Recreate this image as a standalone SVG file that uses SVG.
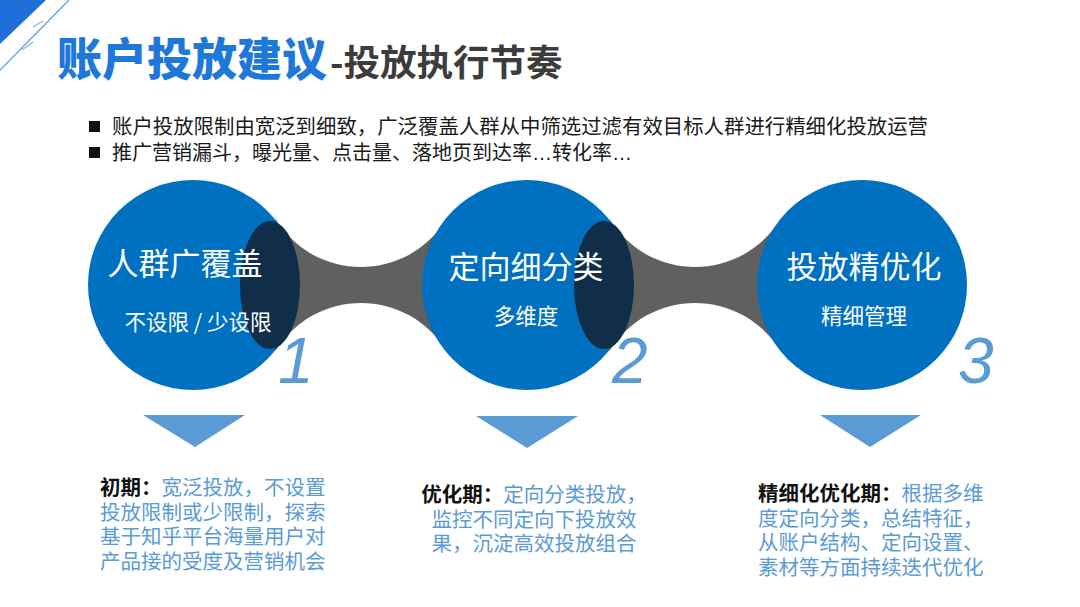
<svg xmlns="http://www.w3.org/2000/svg" width="1080" height="607" viewBox="0 0 1080 607">
<defs>
<style>
.cjk{font-family:"Noto Sans CJK SC","Noto Sans",sans-serif}
.t1{font-size:45px;font-weight:900;fill:#1E78DA}
.t2{font-size:36.5px;font-weight:700;fill:#3C3C3C}
.bul{font-size:20px;fill:#1A1A1A}
.dots{font-family:"Liberation Sans",Arial,sans-serif}
.ctitle{font-size:31px;fill:#FFFFFF;text-anchor:middle}
.csub{font-size:21.5px;fill:#FFFFFF;text-anchor:middle}
.num{font-family:"Liberation Sans",Arial,sans-serif;font-style:italic;font-size:64px;fill:#5B9BD5}
.desc{font-size:20.5px;fill:#5B9BD5}
.desc .b{font-weight:700;fill:#111111}
.circ{fill:#0070C0}
.dark{fill:#102E4A}
.tri{fill:#5B9BD5}
.conn{fill:#606060}
</style>
</defs>
<rect width="1080" height="607" fill="#FFFFFF"/>
<g id="corner">
<polygon points="0,0 46,0 0,44" fill="#1E6FD9"/>
<line x1="69" y1="0" x2="0" y2="70" stroke="#5B9BD5" stroke-width="1.2"/>
<line x1="33" y1="27" x2="43" y2="21" stroke="#8DB4E2" stroke-width="1.2"/>
<line x1="22" y1="50" x2="33" y2="42" stroke="#8DB4E2" stroke-width="1.2"/>
</g>
<g id="title" class="cjk">
<text x="57" y="76" class="t1">账户投放建议</text>
<text x="330" y="76" class="t2">-投放执行节奏</text>
</g>
<g id="bullets" class="cjk bul">
<rect x="89" y="121" width="11" height="11" fill="#111111"/>
<rect x="89" y="147" width="11" height="11" fill="#111111"/>
<text x="112" y="134" textLength="816" lengthAdjust="spacingAndGlyphs">账户投放限制由宽泛到细致，广泛覆盖人群从中筛选过滤有效目标人群进行精细化投放运营</text>
<text x="112" y="160">推广营销漏斗，曝光量、点击量、落地页到达率<tspan class="dots">…</tspan>转化率<tspan class="dots">…</tspan></text>
</g>
<g id="connectors">
<path class="conn" d="M 262 219.7 L 276 219.7 A 100 100 0 0 0 446 219.7 L 470 219.7 L 470 350.3 L 446 350.3 A 100 100 0 0 0 276 350.3 L 262 350.3 Z"/>
<path class="conn" transform="translate(334,0)" d="M 262 219.7 L 276 219.7 A 100 100 0 0 0 446 219.7 L 470 219.7 L 470 350.3 L 446 350.3 A 100 100 0 0 0 276 350.3 L 262 350.3 Z"/>
</g>
<g id="node1">
<circle class="circ" cx="193" cy="285" r="105"/>
<ellipse class="dark" cx="270" cy="285" rx="30" ry="64"/>
<text class="cjk ctitle" x="185" y="275">人群广覆盖</text>
<text class="cjk csub" x="198" y="330">不设限 / 少设限</text>
<text class="num" x="278" y="383">1</text>
<polygon class="tri" points="143,415 245,415 195,447"/>
<text class="cjk desc" x="100" y="495"><tspan class="b">初期：</tspan>宽泛投放，不设置<tspan x="100" dy="24.5">投放限制或少限制，探索</tspan><tspan x="100" dy="24.5">基于知乎平台海量用户对</tspan><tspan x="100" dy="24.5">产品接的受度及营销机会</tspan></text>
</g>
<g id="node2">
<circle class="circ" cx="527" cy="285" r="105"/>
<ellipse class="dark" cx="604" cy="285" rx="30" ry="64"/>
<text class="cjk ctitle" x="526" y="278">定向细分类</text>
<text class="cjk csub" x="526" y="324">多维度</text>
<text class="num" x="612" y="383">2</text>
<polygon class="tri" points="476,416 578,416 527,448"/>
<text class="cjk desc" x="534" y="502" text-anchor="middle"><tspan class="b">优化期：</tspan>定向分类投放，<tspan x="534" dy="24.5">监控不同定向下投放效</tspan><tspan x="534" dy="24.5">果，沉淀高效投放组合</tspan></text>
</g>
<g id="node3">
<circle class="circ" cx="862" cy="285" r="105"/>
<text class="cjk ctitle" x="864" y="278">投放精优化</text>
<text class="cjk csub" x="864" y="324">精细管理</text>
<text class="num" x="958" y="383">3</text>
<polygon class="tri" points="820,415 921,415 870,447"/>
<text class="cjk desc" x="758" y="501"><tspan class="b">精细化优化期：</tspan>根据多维<tspan x="758" dy="24.5">度定向分类，总结特征，</tspan><tspan x="758" dy="24.5">从账户结构、定向设置、</tspan><tspan x="758" dy="24.5">素材等方面持续迭代优化</tspan></text>
</g>
</svg>
